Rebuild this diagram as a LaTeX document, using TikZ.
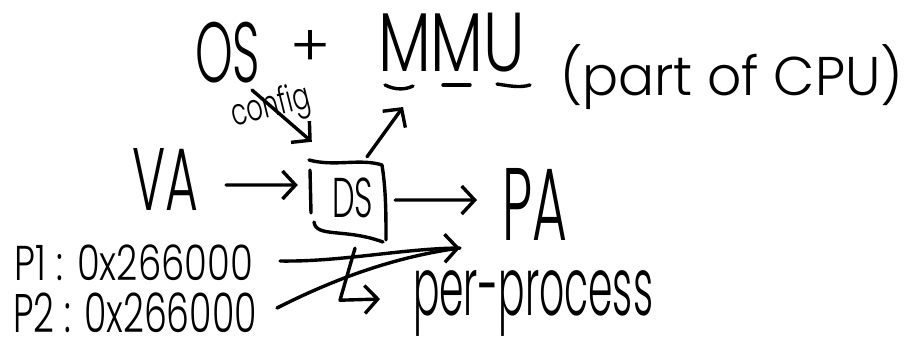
\documentclass[tikz,border=0pt]{standalone}
\usepackage{fontspec}
\setmainfont{Poppins}[UprightFont=* Light]
\usepackage{graphicx}
\usetikzlibrary{arrows.meta,calc}
\newcommand{\fitto}[3]{\resizebox*{#1pt}{#2pt}{#3}}
\begin{document}
\begin{tikzpicture}[x=1pt,y=-1pt,
  txt/.style={anchor=north west,inner sep=0pt,outer sep=0pt},
  stroke/.style={line width=3.4pt,line cap=round,line join=round},
  arr/.style={stroke,-{Straight Barb[length=13pt,width=28pt,line width=3.4pt]}}]
\fill[white] (0,0) rectangle (918,338);
\useasboundingbox (0,0) rectangle (918,338);
% texts
\node[txt] (os) at (195,22) {\fitto{65}{61}{OS}};
\node[txt] (plus) at (290,30) {\fitto{40}{36}{+}};
\node[txt] (mmu) at (378,13) {\fitto{147}{59}{MMU}};
\node[txt] (part) at (560,45) {\fitto{343}{65}{(part of CPU)}};
\node[inner sep=0pt,rotate=14] (config) at (271,108) {\fitto{80}{38}{config}};
\node[txt] (va) at (132,148) {\fitto{66}{62}{VA}};
\node[inner sep=0pt,minimum width=80pt,minimum height=84pt] (dsbox) at (347,201) {};
\node[txt] (ds) at (332,178) {\fitto{41}{40}{DS}};
\node[txt] (pa) at (502,168) {\fitto{65}{72}{PA}};
\node[txt] (p1) at (15,245) {\fitto{238}{36}{P1 : 0x266000}};
\node[txt] (p2) at (13,293) {\fitto{244}{40}{P2 : 0x266000}};
\node[txt] (per) at (413,270) {\fitto{240}{66}{per-process}};
\coordinate (merge) at (460,248);
% DS box outline
\draw[stroke] (309,160) .. controls (335,167) and (360,158) .. (382,165)
  .. controls (386,190) and (386,215) .. (386,240);
\draw[stroke] (310,170) -- (311,213);
\draw[stroke] (314,222) .. controls (316,238) and (345,228) .. (383,242);
% MMU underline
\draw[stroke] (385,85) .. controls (395,90) and (405,90) .. (413,86);
\draw[stroke] (443,85) -- (470,85);
\draw[stroke] (497,84) .. controls (510,86) and (520,88) .. (530,85);
% connectors
\draw[arr] ($(config.center)+(-19,-18)$) -- ($(dsbox.north west)+(5,-17)$);
\draw[arr] ($(dsbox.north)+(20,-2)$) -- ($(mmu.south west)+(25,35)$);
\draw[arr] ($(va.east)+(28,6)$) -- ($(dsbox.west)+(-9,-16)$);
\draw[arr] ($(dsbox.east)+(8,-1)$) -- ($(pa.west)+(-25,-4)$);
\draw[arr] ($(p1.east)+(27,-2)$) .. controls (340,262) and (400,249) .. (merge);
\draw[stroke] ($(p2.east)+(20,-5)$) .. controls (340,276) and (400,256) .. (merge);
\draw[arr] ($(dsbox.south)+(8,5)$) -- ++(-15,52) -- ($(per.west)+(-33,-4)$);
\end{tikzpicture}
\end{document}
